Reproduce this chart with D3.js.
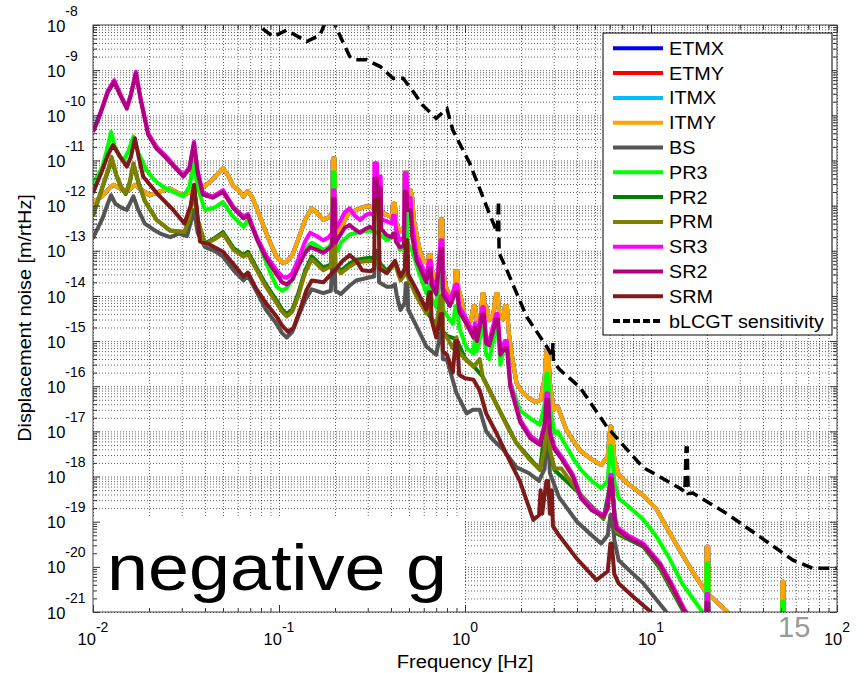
<!DOCTYPE html>
<html>
<head>
<meta charset="utf-8">
<script src="https://cdn.jsdelivr.net/npm/d3@7"></script>
<style>
body{margin:0;background:#fff;}
svg{display:block;font-family:"Liberation Sans",Arial,sans-serif;}
</style>
</head>
<body>
<script>
// displacement noise curves, [frequency Hz, m/rtHz]
var tmNoise = [[0.010,1.2e-12],[0.0112,1.6e-12],[0.0122,2.4e-12],[0.0129,2.9e-12],[0.0138,2.5e-12],[0.0149,2.0e-12],[0.0158,2.3e-12],[0.0168,2.9e-12],[0.018,2.3e-12],[0.0202,1.7e-12],[0.0225,2.0e-12],[0.0259,2.4e-12],[0.028,2.0e-12],[0.0306,1.7e-12],[0.0335,2.0e-12],[0.037,2.3e-12],[0.0408,2.9e-12],[0.045,4.2e-12],[0.050,6.7e-12],[0.0535,4.5e-12],[0.0568,2.7e-12],[0.060,2.3e-12],[0.0644,1.6e-12],[0.068,2.1e-12],[0.072,1.5e-12],[0.080,5e-13],[0.088,1.8e-13],[0.097,7.4e-14],[0.104,5.5e-14],[0.11,5.7e-14],[0.118,8e-14],[0.127,1.8e-13],[0.138,4.8e-13],[0.150,8.7e-13],[0.160,7e-13],[0.173,4.8e-13],[0.185,5.5e-13],[0.193,7e-13],[0.195,1.1e-11],[0.199,1.1e-11],[0.201,4e-13],[0.207,2.5e-13],[0.215,3.2e-13],[0.235,6.5e-13],[0.26,8e-13],[0.29,9.5e-13],[0.31,9.5e-13],[0.33,8.5e-13],[0.36,7e-13],[0.38,6.2e-13],[0.405,5.5e-13],[0.41,1.1e-12],[0.42,1.1e-12],[0.425,4.5e-13],[0.446,2.6e-13],[0.47,3.5e-13],[0.475,5.5e-12],[0.485,5.5e-12],[0.49,2e-12],[0.51,2.2e-12],[0.52,1.5e-12],[0.53,5e-13],[0.57,1.05e-13],[0.6,6e-14],[0.635,5e-14],[0.64,8e-14],[0.655,8e-14],[0.66,4e-14],[0.70,2.2e-14],[0.735,3e-14],[0.74,5e-13],[0.755,5e-13],[0.76,4e-14],[0.79,1.6e-14],[0.83,9.5e-15],[0.88,1.4e-14],[0.89,3.5e-14],[0.91,3.5e-14],[0.92,1.5e-14],[0.96,8e-15],[1.02,2.1e-15],[1.08,3e-15],[1.11,6e-15],[1.13,6e-15],[1.16,3e-15],[1.22,4e-15],[1.24,1.1e-14],[1.26,1.1e-14],[1.28,4e-15],[1.3,6e-15],[1.35,2.9e-15],[1.42,4e-15],[1.47,1.1e-14],[1.5,1.1e-14],[1.53,3.5e-15],[1.6,3e-15],[1.64,6e-15],[1.68,6e-15],[1.72,1.5e-15],[1.8,4e-16],[1.89,1.2e-16],[2.0,8e-17],[2.2,5.5e-17],[2.4,4.5e-17],[2.55,5e-17],[2.68,1.5e-16],[2.74,6.5e-16],[2.8,6.5e-16],[2.86,1.2e-16],[3.0,3e-17],[3.15,3.6e-17],[3.25,2.5e-17],[3.5,1.1e-17],[3.8,6.4e-18],[4.2,3.6e-18],[4.8,2.4e-18],[5.4,1.8e-18],[5.85,2.8e-18],[6.05,1.3e-17],[6.15,1.2e-17],[6.35,2.5e-18],[6.7,1.1e-18],[7.5,7e-19],[9.1,3.8e-19],[10.7,1.9e-19],[12.5,6e-20],[14.3,2.3e-20],[17,7e-21],[19.7,2.8e-21],[19.9,2.8e-20],[20.3,2.8e-20],[20.5,2.4e-21],[25.8,1e-21],[35,2.5e-22],[50.5,1e-22],[50.8,4.7e-21],[51.5,4.7e-21],[51.8,1e-22],[100,1e-23]];

var bsNoise = [[0.010,1.9e-13],[0.0112,5e-13],[0.0120,1.1e-12],[0.0125,1.7e-12],[0.0132,1.1e-12],[0.0142,9e-13],[0.0152,8e-13],[0.0165,1.6e-12],[0.0175,8e-13],[0.019,4e-13],[0.021,3e-13],[0.023,2.4e-13],[0.026,2e-13],[0.029,2.4e-13],[0.032,2.1e-13],[0.0349,8e-13],[0.0365,2.5e-13],[0.040,1.2e-13],[0.045,1e-13],[0.050,7.4e-14],[0.057,3.7e-14],[0.0644,2.2e-14],[0.068,2.8e-14],[0.074,1.5e-14],[0.085,5e-15],[0.097,2.4e-15],[0.104,1.5e-15],[0.11,1.2e-15],[0.118,1.6e-15],[0.127,3.5e-15],[0.138,8e-15],[0.150,1.4e-14],[0.173,1.15e-14],[0.19,1.3e-14],[0.195,1e-13],[0.199,1e-13],[0.201,1.3e-14],[0.215,1.1e-14],[0.24,1.7e-14],[0.26,2.2e-14],[0.31,2.6e-14],[0.325,2.7e-14],[0.327,1e-13],[0.343,1e-13],[0.345,2e-14],[0.38,1.6e-14],[0.405,1.6e-14],[0.42,1.8e-14],[0.43,1e-14],[0.45,4.9e-15],[0.475,7e-15],[0.48,1.9e-14],[0.49,1.9e-14],[0.495,5e-15],[0.55,2.1e-15],[0.62,7.6e-16],[0.7,5e-16],[0.74,1.5e-15],[0.755,1.5e-15],[0.76,4e-16],[0.8,3.8e-16],[0.9,7e-17],[1.02,2.5e-17],[1.1,3e-17],[1.2,3e-17],[1.3,1e-17],[1.42,6.4e-18],[1.6,4e-18],[1.89,1.6e-18],[2.2,1.2e-18],[2.5,8e-19],[2.68,1.5e-18],[2.74,8e-18],[2.8,8e-18],[2.86,1.2e-18],[3.2,3.5e-19],[4,1e-19],[4.8,5e-20],[5.4,3.3e-20],[5.85,5e-20],[6.05,1.4e-19],[6.15,1.4e-19],[6.35,4e-20],[6.7,1.4e-20],[8,7e-21],[9.1,4.3e-21],[12.1,1e-21],[20,1e-22],[100,1e-24]];

var pr3Noise = [[0.010,3.1e-12],[0.0112,7e-12],[0.0120,2e-11],[0.0125,4.3e-11],[0.0131,2e-11],[0.0140,1.2e-11],[0.0146,1e-11],[0.0155,1.6e-11],[0.0165,3.4e-11],[0.0175,1.5e-11],[0.0194,6.1e-12],[0.0215,3.6e-12],[0.0239,2.6e-12],[0.027,2.0e-12],[0.0306,1.6e-12],[0.033,2.6e-12],[0.0349,1e-11],[0.0365,2.5e-12],[0.040,8e-13],[0.045,9e-13],[0.050,1.2e-12],[0.056,6e-13],[0.0644,3.4e-13],[0.068,4.8e-13],[0.073,3e-13],[0.080,1.1e-13],[0.088,4e-14],[0.097,1.6e-14],[0.104,1.3e-14],[0.11,1.5e-14],[0.118,2.3e-14],[0.127,5e-14],[0.138,1.1e-13],[0.150,1.5e-13],[0.160,1.3e-13],[0.173,1.05e-13],[0.185,1.2e-13],[0.193,1.5e-13],[0.195,5.5e-12],[0.199,5.5e-12],[0.201,1.5e-13],[0.207,1e-13],[0.215,1.5e-13],[0.24,2.3e-13],[0.273,2.6e-13],[0.308,2.8e-13],[0.33,2.6e-13],[0.36,2.1e-13],[0.38,1.7e-13],[0.405,2e-13],[0.42,2.4e-13],[0.43,1.8e-13],[0.446,1.05e-13],[0.47,1.2e-13],[0.475,1.2e-12],[0.485,1.2e-12],[0.49,1.5e-13],[0.52,1e-13],[0.57,3e-14],[0.62,1.15e-14],[0.64,1.8e-14],[0.655,1.8e-14],[0.66,9e-15],[0.70,5.7e-15],[0.74,4e-14],[0.755,4e-14],[0.76,5e-15],[0.86,2.4e-15],[0.89,6e-15],[0.91,6e-15],[0.93,2e-15],[1.02,7e-16],[1.11,5.3e-16],[1.13,1.2e-15],[1.16,6e-16],[1.24,2e-15],[1.26,2e-15],[1.3,5e-16],[1.35,4e-16],[1.47,2e-15],[1.5,2e-15],[1.55,3e-16],[1.64,1e-15],[1.68,1e-15],[1.75,1.2e-16],[1.98,2.9e-17],[2.3,1.8e-17],[2.53,1.4e-17],[2.68,4e-17],[2.74,1.9e-16],[2.8,1.9e-16],[2.86,3.5e-17],[3.03,9e-18],[3.15,1e-17],[3.35,6.4e-18],[3.8,2.6e-18],[4.2,1.4e-18],[4.8,8e-19],[5.4,5.5e-19],[5.85,8e-19],[6.05,4.8e-18],[6.15,4.6e-18],[6.35,8e-19],[6.7,3.3e-19],[8,1.8e-19],[9.1,1.1e-19],[10.7,4.7e-20],[12.5,1.6e-20],[14.7,4.3e-21],[18.9,1e-21],[19.7,8e-22],[19.9,1.2e-20],[20.3,1.2e-20],[20.5,7e-22],[30,1e-22],[50.5,3e-23],[50.8,1.7e-21],[51.5,1.7e-21],[51.8,3e-23],[100,1e-24]];

var pr2Noise = [[0.010,6e-13],[0.0112,2.4e-12],[0.0120,5.5e-12],[0.0126,1.1e-11],[0.0133,4.8e-12],[0.0142,2.5e-12],[0.015,1.8e-12],[0.0158,3.3e-12],[0.0165,8.2e-12],[0.0175,3.3e-12],[0.019,1.25e-12],[0.022,4.8e-13],[0.026,2.8e-13],[0.031,2.6e-13],[0.033,4.8e-13],[0.0349,2.5e-12],[0.0365,4.8e-13],[0.040,1.45e-13],[0.045,1.9e-13],[0.050,2.6e-13],[0.057,1.15e-13],[0.0644,8e-14],[0.068,9.5e-14],[0.074,5e-14],[0.085,1.8e-14],[0.097,8e-15],[0.104,5e-15],[0.11,4e-15],[0.118,5e-15],[0.127,1.15e-14],[0.138,3.6e-14],[0.150,7.5e-14],[0.173,4.2e-14],[0.19,5e-14],[0.195,4.5e-13],[0.199,4.5e-13],[0.201,5e-14],[0.215,3.6e-14],[0.24,5.2e-14],[0.26,6.3e-14],[0.308,7e-14],[0.33,6.8e-14],[0.36,4.6e-14],[0.38,3.6e-14],[0.42,5.8e-14],[0.45,2.5e-14],[0.475,3.3e-14],[0.48,8e-14],[0.49,8e-14],[0.495,2.8e-14],[0.55,1.05e-14],[0.62,4.5e-15],[0.7,2.3e-15],[0.8,1.3e-15],[0.9,1.1e-15],[1.0,4.2e-16],[1.11,2.8e-16],[1.25,1.6e-16],[1.5,3.5e-17],[1.89,5.5e-18],[2.53,1.4e-18],[2.74,2e-17],[2.8,2e-17],[2.86,3.5e-18],[3.03,1.4e-18],[4,4.8e-19],[5.55,1.15e-19],[6.05,7e-19],[6.15,7e-19],[6.53,5.5e-20],[9.1,2.8e-20],[11.2,9e-21],[15.2,9e-22],[20,1e-22],[100,1e-24]];

var prmNoise = [[0.010,6.2e-13],[0.0112,2.5e-12],[0.0120,6e-12],[0.0126,1.2e-11],[0.0133,5e-12],[0.0142,2.6e-12],[0.015,1.9e-12],[0.0158,3.5e-12],[0.0165,8.7e-12],[0.0175,3.5e-12],[0.019,1.3e-12],[0.022,4.8e-13],[0.026,2.8e-13],[0.031,2.6e-13],[0.033,5e-13],[0.0349,2.7e-12],[0.0365,5e-13],[0.040,1.4e-13],[0.045,1.8e-13],[0.050,2.4e-13],[0.057,1.05e-13],[0.0644,7.4e-14],[0.068,8.5e-14],[0.074,4.5e-14],[0.085,1.6e-14],[0.097,7e-15],[0.104,4.5e-15],[0.11,3.5e-15],[0.118,4.5e-15],[0.127,1e-14],[0.138,3.2e-14],[0.150,6.5e-14],[0.173,3.7e-14],[0.19,4.5e-14],[0.195,4.8e-13],[0.199,4.8e-13],[0.201,4.5e-14],[0.215,3.2e-14],[0.24,4.5e-14],[0.26,5.5e-14],[0.308,6e-14],[0.33,5.8e-14],[0.36,4e-14],[0.38,3.2e-14],[0.42,5.2e-14],[0.45,2.2e-14],[0.475,3e-14],[0.48,9e-14],[0.49,9e-14],[0.495,2.5e-14],[0.55,9.5e-15],[0.62,4.1e-15],[0.64,8e-15],[0.655,8e-15],[0.66,3e-15],[0.7,2.1e-15],[0.74,1e-14],[0.755,1e-14],[0.76,1.5e-15],[0.8,1.2e-15],[0.86,7e-16],[0.9,1.2e-15],[0.92,6e-16],[1.0,4e-16],[1.11,2.7e-16],[1.2,4e-16],[1.25,1.5e-16],[1.4,6e-17],[1.5,3.4e-17],[1.7,1.2e-17],[1.89,5.5e-18],[2.2,2.5e-18],[2.53,1.4e-18],[2.68,4e-18],[2.74,2.5e-17],[2.8,2.5e-17],[2.86,4e-18],[3.03,1.5e-18],[3.3,1.5e-18],[4,5e-19],[4.8,2e-19],[5.55,1.2e-19],[5.85,2e-19],[6.05,8e-19],[6.15,8e-19],[6.35,1.5e-19],[6.53,6e-20],[9.1,3e-20],[11.2,1e-20],[15.2,1e-21],[20,1e-22],[100,1e-24]];

var sr3Noise = [[0.010,4.7e-11],[0.0106,8e-11],[0.0112,1.5e-10],[0.0120,3.5e-10],[0.0130,6e-10],[0.0140,3e-10],[0.0152,1.5e-10],[0.0160,3e-10],[0.0170,9.3e-10],[0.0180,2.5e-10],[0.0198,4e-11],[0.0220,2e-11],[0.0249,1.2e-11],[0.0275,7.5e-12],[0.0306,4.8e-12],[0.033,7e-12],[0.0349,2.6e-11],[0.0365,6e-12],[0.039,1.9e-12],[0.044,1.6e-12],[0.050,2.2e-12],[0.0568,9.5e-13],[0.0644,5.7e-13],[0.068,6.5e-13],[0.076,2e-13],[0.085,8e-14],[0.097,3.7e-14],[0.104,2.7e-14],[0.11,2.5e-14],[0.118,3.2e-14],[0.127,6.5e-14],[0.138,1.6e-13],[0.147,2.5e-13],[0.16,2.1e-13],[0.173,1.7e-13],[0.185,2e-13],[0.193,2.5e-13],[0.195,2.2e-12],[0.199,2.2e-12],[0.201,3e-13],[0.21,4e-13],[0.225,7e-13],[0.24,8.7e-13],[0.255,6e-13],[0.273,4.8e-13],[0.29,6e-13],[0.308,6.8e-13],[0.324,6e-13],[0.326,8.7e-12],[0.336,8.7e-12],[0.338,1.2e-12],[0.341,1.2e-12],[0.343,4.4e-12],[0.352,4.4e-12],[0.355,5e-13],[0.38,4.5e-13],[0.405,4e-13],[0.41,6e-13],[0.42,6e-13],[0.425,3e-13],[0.446,1.7e-13],[0.47,2e-13],[0.475,5.2e-12],[0.485,5.2e-12],[0.49,1.5e-12],[0.51,1.5e-12],[0.52,4e-13],[0.55,8e-14],[0.62,2.7e-14],[0.64,6e-14],[0.655,6e-14],[0.66,2.5e-14],[0.7,1.5e-14],[0.74,1.7e-13],[0.755,1.7e-13],[0.76,1.5e-14],[0.83,8e-15],[0.89,1.8e-14],[0.91,1.8e-14],[0.93,6e-15],[1.02,3e-15],[1.11,1.5e-15],[1.13,2.5e-15],[1.16,1.3e-15],[1.24,5.7e-15],[1.26,5.7e-15],[1.3,1.2e-15],[1.35,1e-15],[1.47,4e-15],[1.5,4e-15],[1.55,6e-16],[1.64,1e-15],[1.68,1e-15],[1.75,1.2e-16],[1.98,1.8e-17],[2.25,8e-18],[2.53,5.5e-18],[2.68,1.5e-17],[2.74,7e-17],[2.8,7e-17],[2.86,1e-17],[3.03,4.5e-18],[3.3,2.8e-18],[3.8,1.1e-18],[4.2,3.6e-19],[4.8,2e-19],[5.55,1.4e-19],[5.85,2.2e-19],[6.05,1.1e-18],[6.15,1.1e-18],[6.35,1.5e-19],[6.53,7.8e-20],[7.5,5e-20],[9.1,3.3e-20],[11.2,1.2e-20],[13,4e-21],[15.2,1.1e-21],[19.7,3e-22],[19.9,2.5e-21],[20.3,2.5e-21],[20.5,3e-22],[30,5e-23],[100,1e-24]];

var sr2Noise = [[0.010,4.3e-11],[0.0106,7.5e-11],[0.0112,1.4e-10],[0.0120,3.2e-10],[0.0130,5.5e-10],[0.0140,2.8e-10],[0.0152,1.4e-10],[0.0160,2.8e-10],[0.0170,8.5e-10],[0.0180,2.3e-10],[0.0198,3.7e-11],[0.0220,1.8e-11],[0.0249,1.1e-11],[0.0275,7e-12],[0.0306,4.4e-12],[0.033,6.5e-12],[0.0349,2.4e-11],[0.0365,5.5e-12],[0.039,1.75e-12],[0.044,1.5e-12],[0.050,2e-12],[0.0568,8.8e-13],[0.0644,5.2e-13],[0.068,6e-13],[0.076,1.8e-13],[0.085,7e-14],[0.097,3e-14],[0.104,2e-14],[0.11,1.8e-14],[0.118,2.3e-14],[0.127,4.5e-14],[0.138,9e-14],[0.147,1.2e-13],[0.16,1.05e-13],[0.173,9e-14],[0.185,1.1e-13],[0.193,1.3e-13],[0.195,1.4e-12],[0.199,1.4e-12],[0.201,1.5e-13],[0.21,2e-13],[0.225,3.2e-13],[0.24,3.7e-13],[0.255,3e-13],[0.273,2.5e-13],[0.29,3e-13],[0.308,3.4e-13],[0.324,3e-13],[0.326,4e-12],[0.336,4e-12],[0.338,8e-13],[0.341,8e-13],[0.343,2.5e-12],[0.352,2.5e-12],[0.355,3e-13],[0.38,2.2e-13],[0.405,2e-13],[0.41,2.4e-13],[0.42,2.4e-13],[0.425,1.6e-13],[0.446,1.2e-13],[0.47,1.3e-13],[0.475,2e-12],[0.485,2e-12],[0.49,8e-13],[0.51,8e-13],[0.52,2e-13],[0.55,6e-14],[0.62,2e-14],[0.64,4e-14],[0.655,4e-14],[0.66,1.8e-14],[0.7,1.1e-14],[0.74,1.1e-13],[0.755,1.1e-13],[0.76,1.1e-14],[0.83,6e-15],[0.89,1.2e-14],[0.91,1.2e-14],[0.93,4.5e-15],[1.02,2.4e-15],[1.11,1.2e-15],[1.13,2e-15],[1.16,1e-15],[1.24,4e-15],[1.26,4e-15],[1.3,9e-16],[1.35,8e-16],[1.47,3e-15],[1.5,3e-15],[1.55,5e-16],[1.64,7e-16],[1.68,7e-16],[1.75,1e-16],[1.98,1.6e-17],[2.25,7e-18],[2.53,5e-18],[2.68,1.3e-17],[2.74,5e-17],[2.8,5e-17],[2.86,9e-18],[3.03,4e-18],[3.3,2.5e-18],[3.8,1e-18],[4.2,3.3e-19],[4.8,1.8e-19],[5.55,1.3e-19],[5.85,2e-19],[6.05,9e-19],[6.15,9e-19],[6.35,1.35e-19],[6.53,7e-20],[7.5,4.5e-20],[9.1,3e-20],[11.2,1.1e-20],[13,3.6e-21],[15.2,1e-21],[19.7,2.5e-22],[19.9,1.6e-21],[20.3,1.6e-21],[20.5,2.5e-22],[30,5e-23],[100,1e-24]];

var srmNoise = [[0.010,1.9e-12],[0.0112,6e-12],[0.0120,1.3e-11],[0.0128,2.2e-11],[0.0140,1.2e-11],[0.0152,7.3e-12],[0.0160,1.2e-11],[0.0168,3.1e-11],[0.0176,1.2e-11],[0.0186,4.4e-12],[0.022,1.9e-12],[0.027,8e-13],[0.031,4e-13],[0.0335,1e-12],[0.0349,2.9e-12],[0.0362,8e-13],[0.0376,1.6e-13],[0.042,1.4e-13],[0.050,9.5e-14],[0.057,5e-14],[0.0644,2.7e-14],[0.068,3.3e-14],[0.075,1.5e-14],[0.085,7e-15],[0.097,3.5e-15],[0.104,2.2e-15],[0.112,1.6e-15],[0.12,2e-15],[0.13,5e-15],[0.14,1.3e-14],[0.15,2.2e-14],[0.173,2e-14],[0.2,3.7e-14],[0.22,6e-14],[0.24,8e-14],[0.26,6e-14],[0.28,3.7e-14],[0.31,3.5e-14],[0.325,4e-14],[0.327,1.3e-12],[0.343,1.3e-12],[0.347,4e-14],[0.38,3.2e-14],[0.42,6e-14],[0.45,2.7e-14],[0.475,4e-14],[0.48,1.7e-13],[0.49,1.7e-13],[0.495,3e-14],[0.55,1.35e-14],[0.62,5e-15],[0.64,1.2e-14],[0.655,1.2e-14],[0.66,3e-15],[0.7,1.2e-15],[0.74,4e-15],[0.755,4e-15],[0.76,6e-16],[0.8,5e-16],[0.86,2e-16],[0.89,1e-15],[0.91,1e-15],[0.93,1.8e-16],[1.0,1.5e-16],[1.11,1.4e-16],[1.2,8e-17],[1.3,2.5e-17],[1.5,8e-18],[1.76,2e-18],[1.97,8e-19],[2.33,1.1e-19],[2.5,1.4e-19],[2.55,5e-19],[2.6,1.5e-19],[2.74,8e-19],[2.8,8e-19],[2.86,1.5e-19],[2.93,5e-19],[2.97,8e-20],[3.2,5e-20],[4,1.5e-20],[5.1,5.1e-21],[5.85,8e-21],[6.05,3.3e-20],[6.15,3.3e-20],[6.35,7e-21],[6.7,4.3e-21],[8,2.2e-21],[10,1e-21],[20,1e-22],[100,1e-24]];

var bLcgtSens = [[0.070,1.5e-8],[0.079,9.2e-9],[0.093,5.5e-9],[0.11,7.7e-9],[0.141,4.3e-9],[0.166,6e-9],[0.18,1.3e-8],[0.19,1.3e-8],[0.20,1e-8],[0.24,2e-9],[0.255,1.7e-9],[0.295,1.7e-9],[0.35,1.2e-9],[0.41,6.6e-10],[0.465,6.6e-10],[0.52,3.6e-10],[0.59,1.7e-10],[0.70,8.6e-11],[0.80,1.4e-10],[0.86,4.7e-11],[1.06,8.7e-12],[1.31,9.3e-13],[1.49,2.5e-13],[1.515,1.3e-12],[1.525,8.9e-14],[1.68,3.7e-14],[2.15,3.4e-15],[2.76,7.4e-16],[2.95,4.5e-16],[2.97,9e-16],[2.99,3.5e-16],[3.24,2.3e-16],[4.15,9.5e-17],[5.8,1.25e-17],[9.05,1.6e-18],[14.3,5.5e-19],[15.2,4.6e-19],[15.45,4.3e-18],[15.65,4.3e-18],[15.85,4.2e-19],[16.8,4.3e-19],[25.6,1.5e-19],[38.6,4.6e-20],[58,1.4e-20],[74.3,9.3e-21],[100,9.3e-21]];

var seriesNames = ["ETMX","ETMY","ITMX","ITMY","BS","PR3","PR2","PRM","SR3","SR2","SRM"];
var seriesColors = ["#0000ff","#ff0000","#00bfff","#ffa500","#555555","#00ff00","#007f00","#808000","#ff00ff","#b0007f","#7f1a1a"];
var seriesData = [tmNoise, tmNoise, tmNoise, tmNoise, bsNoise, pr3Noise, pr2Noise, prmNoise, sr3Noise, sr2Noise, srmNoise];
var sensName = "bLCGT sensitivity";

var xDecades = [1e-2, 1e-1, 1e0, 1e1, 1e2];
var xExpLabels = ["-2","-1","0","1","2"];
var yDecades = [1e-8,1e-9,1e-10,1e-11,1e-12,1e-13,1e-14,1e-15,1e-16,1e-17,1e-18,1e-19,1e-20,1e-21];
var yExpLabels = ["-8","-9","-10","-11","-12","-13","-14","-15","-16","-17","-18","-19","-20","-21"];

var width = 866, height = 673;
var plotLeft = 93, plotTop = 25, plotW = 744, plotH = 587;
var plotBottom = plotTop + plotH, plotRight = plotLeft + plotW;

var svg = d3.select("body").append("svg")
    .attr("width", width)
    .attr("height", height);

svg.append("rect").attr("width", width).attr("height", height).attr("fill", "#fff");

var x = d3.scaleLog().domain([1e-2, 1e2]).range([plotLeft, plotRight]);
var y = d3.scaleLog().domain([1e-21, 1e-8]).range([plotBottom, plotTop]);

// minor positions: 1..9 x each decade
var minorVals = function(lo, hi){
    var out = [];
    for(var e = lo; e < hi; e++){
        for(var m = 1; m < 10; m++) out.push(m * Math.pow(10, e));
    }
    out.push(Math.pow(10, hi));
    return out;
};
var xAll = minorVals(-2, 2), yAll = minorVals(-21, -8);

// dotted grid
var gx = svg.append("g").attr("transform", "translate(0," + plotBottom + ")")
    .call(d3.axisBottom(x).tickValues(xAll).tickSize(-plotH).tickFormat(""));
var gy = svg.append("g").attr("transform", "translate(" + plotLeft + ",0)")
    .call(d3.axisLeft(y).tickValues(yAll).tickSize(-plotW).tickFormat(""));
[gx, gy].forEach(function(g){
    g.select(".domain").remove();
    g.selectAll("line").attr("stroke", "#000").attr("stroke-opacity", 0.6)
        .attr("stroke-width", 1).attr("stroke-dasharray", "1,2");
});

svg.append("clipPath").attr("id", "plotclip")
    .append("rect").attr("x", plotLeft).attr("y", plotTop).attr("width", plotW).attr("height", plotH);

var line = d3.line()
    .x(function(d){ return x(d[0]); })
    .y(function(d){ return y(d[1]); });

var curves = svg.append("g").attr("clip-path", "url(#plotclip)");
seriesData.forEach(function(data, i){
    curves.append("path")
        .datum(data)
        .attr("d", line)
        .attr("fill", "none")
        .attr("stroke", seriesColors[i])
        .attr("stroke-width", 4)
        .attr("stroke-linejoin", "round");
});
curves.append("path")
    .datum(bLcgtSens)
    .attr("d", line)
    .attr("fill", "none")
    .attr("stroke", "#000")
    .attr("stroke-width", 3.5)
    .attr("stroke-dasharray", "11,6");

// "negative g" label box
svg.append("rect").attr("x", plotLeft).attr("y", 518).attr("width", 370).attr("height", plotBottom - 518).attr("fill", "#fff");
svg.append("text").attr("x", 107).attr("y", 590)
    .attr("font-size", 64).attr("textLength", 340).attr("lengthAdjust", "spacingAndGlyphs")
    .attr("fill", "#000").text("negative g");
svg.append("text").attr("x", 778).attr("y", 637).attr("font-size", 29).attr("fill", "#999").text("15");

// frame and inward ticks on all sides
var tickStyle = function(g){
    g.select(".domain").remove();
    g.selectAll("line").attr("stroke", "#333").attr("stroke-width", 1);
};
var xMinor = xAll.filter(function(v){ return xDecades.indexOf(v) < 0; });
var yMinor = yAll.filter(function(v){ return yDecades.indexOf(v) < 0; });
svg.append("g").attr("transform", "translate(0," + plotBottom + ")").call(d3.axisBottom(x).tickValues(xMinor).tickSize(-4).tickFormat("")).call(tickStyle);
svg.append("g").attr("transform", "translate(0," + plotBottom + ")").call(d3.axisBottom(x).tickValues(xDecades).tickSize(-7).tickFormat("")).call(tickStyle);
svg.append("g").attr("transform", "translate(0," + plotTop + ")").call(d3.axisTop(x).tickValues(xMinor).tickSize(-4).tickFormat("")).call(tickStyle);
svg.append("g").attr("transform", "translate(0," + plotTop + ")").call(d3.axisTop(x).tickValues(xDecades).tickSize(-7).tickFormat("")).call(tickStyle);
svg.append("g").attr("transform", "translate(" + plotLeft + ",0)").call(d3.axisLeft(y).tickValues(yMinor).tickSize(-4).tickFormat("")).call(tickStyle);
svg.append("g").attr("transform", "translate(" + plotLeft + ",0)").call(d3.axisLeft(y).tickValues(yDecades).tickSize(-7).tickFormat("")).call(tickStyle);
svg.append("g").attr("transform", "translate(" + plotRight + ",0)").call(d3.axisRight(y).tickValues(yMinor).tickSize(-4).tickFormat("")).call(tickStyle);
svg.append("g").attr("transform", "translate(" + plotRight + ",0)").call(d3.axisRight(y).tickValues(yDecades).tickSize(-7).tickFormat("")).call(tickStyle);
svg.append("rect").attr("x", plotLeft).attr("y", plotTop).attr("width", plotW).attr("height", plotH)
    .attr("fill", "none").attr("stroke", "#444").attr("stroke-width", 1);

// tick labels 10^n
var xl = svg.append("g").selectAll("text").data(xDecades).enter().append("text")
    .attr("x", function(d){ return x(d); })
    .attr("y", plotBottom + 33)
    .attr("text-anchor", "middle")
    .attr("font-size", 16.5)
    .text("10");
xl.append("tspan").attr("dy", -13).attr("font-size", 14).text(function(d, i){ return xExpLabels[i]; });

var yl = svg.append("g").selectAll("text").data(yDecades).enter().append("text")
    .attr("x", 47)
    .attr("y", function(d){ return y(d) + 6.6; })
    .attr("font-size", 16.5)
    .text("10");
yl.append("tspan").attr("dy", -16).attr("font-size", 14).text(function(d, i){ return yExpLabels[i]; });

// the original lettering runs a little wider than Liberation Sans
var widen = function(sel, k){
    sel.each(function(){
        var w = this.getComputedTextLength();
        d3.select(this).attr("textLength", w * k).attr("lengthAdjust", "spacingAndGlyphs");
    });
};
svg.append("text").attr("x", plotLeft + plotW / 2).attr("y", 668).attr("text-anchor", "middle")
    .attr("font-size", 18).text("Frequency [Hz]").call(widen, 1.12);
svg.append("text").attr("transform", "translate(31,318) rotate(-90)").attr("text-anchor", "middle")
    .attr("font-size", 18).text("Displacement noise [m/rtHz]").call(widen, 1.1);

// legend
var legX = 603, legY = 33, legW = 229, legH = 302, rowH = 24.8;
var legend = svg.append("g");
legend.append("rect").attr("x", legX).attr("y", legY).attr("width", legW).attr("height", legH)
    .attr("fill", "#fff").attr("stroke", "#000").attr("stroke-width", 1);
var rows = legend.selectAll("g.row").data(seriesNames.concat([sensName])).enter().append("g")
    .attr("class", "row")
    .attr("transform", function(d, i){ return "translate(0," + (48.3 + i * rowH) + ")"; });
rows.append("line").attr("x1", 613).attr("x2", 663).attr("y1", 0).attr("y2", 0)
    .attr("stroke", function(d, i){ return i < seriesColors.length ? seriesColors[i] : "#000"; })
    .attr("stroke-width", 4)
    .attr("stroke-dasharray", function(d, i){ return i < seriesColors.length ? null : "7,3"; });
rows.append("text").attr("x", 669).attr("y", 6.5).attr("font-size", 18).text(function(d){ return d; })
    .call(widen, 1.1);
</script>
</body>
</html>
